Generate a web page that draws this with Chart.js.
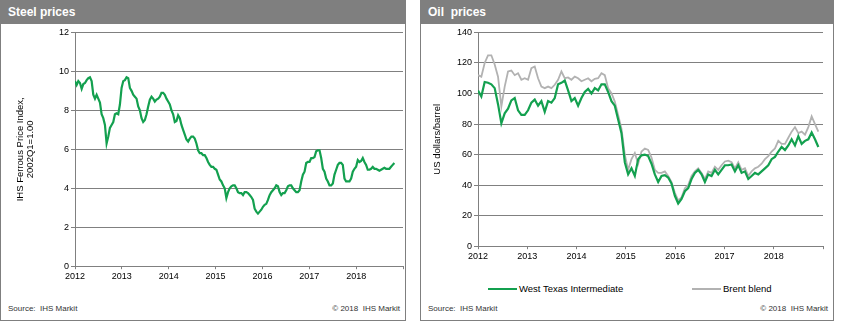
<!DOCTYPE html>
<html>
<head>
<meta charset="utf-8">
<script src="https://cdn.jsdelivr.net/npm/chart.js@4/dist/chart.umd.min.js"></script>
<style>
  body { margin: 0; background: #fff; font-family: "Liberation Sans", Arial, sans-serif; }
  .panel { position: absolute; top: 0; height: 321px; box-sizing: border-box; border: 1px solid #7f7f7f; }
  .head { position: absolute; top: -1px; left: -1px; right: -1px; height: 24px; background: #7f7f7f;
          color: #fff; font-weight: bold; font-size: 12px; line-height: 24px; padding-left: 8px; white-space: pre; }
  .foot { position: absolute; top: 303px; font-size: 8px; color: #333; white-space: pre; }
  canvas { position: absolute; }
  .leg { position: absolute; top: 283px; font-size: 9.5px; color: #000; white-space: nowrap; }
  .leg span.line { display: inline-block; width: 29px; height: 2px; vertical-align: middle; margin-right: 2px; }
</style>
</head>
<body>
<div class="panel" style="left:0;width:406px">
  <div class="head">Steel prices</div>
  <div class="foot" style="left:7px">Source:  IHS Markit</div>
  <div class="foot" style="right:5px">© 2018  IHS Markit</div>
</div>
<div class="panel" style="left:420px;width:414px">
  <div class="head">Oil  prices</div>
  <div class="foot" style="left:7px">Source:  IHS Markit</div>
  <div class="foot" style="right:5px">© 2018  IHS Markit</div>
</div>
<canvas id="steel" width="404" height="275" style="left:1px;top:25px"></canvas>
<canvas id="oil" width="412" height="245" style="left:421px;top:25px"></canvas>
<div class="leg" id="legend1" style="left:488px"></div>
<div class="leg" id="legend2" style="left:692px"></div>
<script>
// steel index, one reading every ~13 days from Jan 2012
const steelStart = 2012;
const steelStep = 0.0355;
const steelValues = [
  9.5, 9.3, 9.5, 9.4, 9.1, 9.35, 9.4, 9.55, 9.65, 9.7, 9.5, 8.8, 8.6, 8.8, 8.6, 8.4,
  7.8, 7.6, 7.25, 6.3, 6.65, 7.1, 7.25, 7.4, 7.8, 7.85, 7.8, 8.3, 9.15, 9.5, 9.55, 9.7,
  9.65, 9.15, 9.0, 8.8, 8.7, 8.6, 8.2, 8.0, 7.6, 7.4, 7.5, 7.8, 8.2, 8.55, 8.7, 8.6,
  8.45, 8.55, 8.6, 8.7, 8.9, 8.9, 8.8, 8.6, 8.45, 8.3, 8.0, 7.8, 7.4, 7.45, 7.75, 7.6,
  7.25, 7.0, 6.75, 6.5, 6.4, 6.55, 6.65, 6.65, 6.55, 6.3, 5.95, 5.8, 5.8, 5.7, 5.7, 5.55,
  5.35, 5.2, 5.1, 5.1, 5.0, 4.95, 4.7, 4.45, 4.35, 4.15, 4.0, 3.5, 3.8, 4.0, 4.1, 4.15,
  4.15, 4.0, 3.8, 3.75, 3.75, 3.65, 3.8, 3.8, 3.75, 3.65, 3.55, 3.4, 2.95, 2.8, 2.7, 2.8,
  2.9, 3.05, 3.15, 3.2, 3.4, 3.65, 3.8, 3.9, 4.0, 4.15, 4.1, 3.8, 3.65, 3.75, 3.75, 3.9,
  4.1, 4.15, 4.15, 4.0, 3.9, 3.8, 3.8, 3.9, 4.35, 4.7, 4.85, 5.3, 5.35, 5.35, 5.55, 5.55,
  5.6, 5.9, 5.95, 5.95, 5.55, 5.0, 4.85, 4.5, 4.35, 4.15, 4.15, 4.25, 4.7, 4.95, 5.2, 5.3,
  5.3, 5.2, 4.5, 4.35, 4.35, 4.35, 4.5, 4.85, 5.0, 5.1, 5.45, 5.35, 5.4, 5.55, 5.35, 5.2,
  4.95, 4.95, 5.0, 5.1, 5.0, 5.0, 4.95, 4.9, 4.95, 5.0, 5.05, 5.0, 5.0, 5.0, 5.1, 5.2, 5.3
];

// oil prices, US$/barrel, one reading every ~25 days from Jan 2012
const oilStart = 2012;
const oilStep = 0.0677;
const wtiValues = [
  102, 98, 107.5, 107, 106, 103.5, 93, 80.5, 87, 90, 95.5, 97, 89, 86, 86, 89,
  94, 96, 92, 95, 88, 95, 94, 97, 106, 107, 108.5, 102, 95, 97, 92, 97,
  101, 103, 100, 103.5, 102, 106, 106, 101, 95, 92, 83, 74, 55, 47, 51, 46,
  57, 59.5, 60, 59, 54, 47, 42, 46, 46.5, 45, 41, 33, 28, 31, 36, 38,
  44, 48, 50, 47, 42, 47, 46, 50, 47, 50, 53, 53, 53.5, 49, 53, 48,
  49, 44, 46, 48, 47, 49, 51, 53, 57, 58.5, 62, 65, 63, 66, 70, 66,
  72, 67, 69, 70, 74.5, 70, 65
];
const brentValues = [
  112, 111, 120, 125, 125, 119, 111, 91.5, 104.5, 114.4, 115, 112, 113.3, 109, 110, 109,
  116.6, 117.7, 110, 104.5, 103.5, 104.5, 103.5, 105.7, 109, 114.4, 110, 110.5, 109, 111, 110, 108,
  109, 110, 108, 109.6, 110, 113.3, 112, 103.5, 100.2, 94.7, 86, 77, 60, 50, 57, 61,
  54, 62, 64, 63, 58, 50, 48, 48, 49, 46, 42, 35, 30, 32, 38, 40,
  46, 49, 51, 48, 44, 49, 48, 52, 50, 53, 55.5, 56, 55, 51, 55, 50,
  51, 46, 49, 51, 52, 54, 57, 59, 62, 64, 69, 67, 67, 71, 75, 78,
  74, 75, 73, 78, 85, 80, 75
];

const seriesNames = ["West Texas Intermediate", "Brent blend"];
const seriesColors = ["#13a04f", "#b2b2b2"];

function toPoints(start, step, values) {
  return values.map((v, i) => ({ x: start + i * step, y: v }));
}

const tickFont = { family: "Liberation Sans", size: 9 };
const gridColor = "#808080";

function yearAxis() {
  return {
    type: "linear",
    min: 2012,
    max: 2019,
    grid: { drawOnChartArea: false, drawTicks: true, tickLength: 3, color: gridColor },
    border: { display: true, color: gridColor },
    ticks: {
      stepSize: 1,
      autoSkip: false,
      maxRotation: 0,
      padding: 2,
      color: "#000",
      font: tickFont,
      callback: (v) => (v === 2019 ? "" : String(v)),
    },
  };
}

function valueAxis(max, step, width, title, titlePad) {
  return {
    min: 0,
    max: max,
    grid: { color: gridColor, tickLength: 4, drawTicks: true },
    border: { display: true, color: gridColor },
    ticks: { stepSize: step, padding: 2, color: "#000", font: tickFont },
    title: {
      display: true,
      text: title,
      color: "#000",
      font: { family: "Liberation Sans", size: 9.5, lineHeight: 1.05 },
      padding: { top: titlePad, bottom: 0 },
    },
    afterFit: (scale) => {
      scale.width = width;
    },
  };
}

new Chart(document.getElementById("steel"), {
  type: "line",
  data: {
    datasets: [
      {
        label: "Steel",
        data: toPoints(steelStart, steelStep, steelValues),
        borderColor: seriesColors[0],
        borderWidth: 2.2,
        pointRadius: 0,
        tension: 0,
      },
    ],
  },
  options: {
    responsive: false,
    animation: false,
    layout: { padding: { left: 0, right: 2, top: 4, bottom: 16 } },
    plugins: { legend: { display: false }, tooltip: { enabled: false } },
    scales: {
      x: yearAxis(),
      y: valueAxis(12, 2, 74, ["IHS Ferrous Price Index,", "2002Q1=1.00"], 14),
    },
  },
});

new Chart(document.getElementById("oil"), {
  type: "line",
  data: {
    datasets: [
      {
        label: seriesNames[0],
        data: toPoints(oilStart, oilStep, wtiValues),
        borderColor: seriesColors[0],
        borderWidth: 2.2,
        pointRadius: 0,
        tension: 0,
      },
      {
        label: seriesNames[1],
        data: toPoints(oilStart, oilStep, brentValues),
        borderColor: seriesColors[1],
        borderWidth: 1.8,
        pointRadius: 0,
        tension: 0,
      },
    ],
  },
  options: {
    responsive: false,
    animation: false,
    layout: { padding: { left: 0, right: 10, top: 4, bottom: 6 } },
    plugins: { legend: { display: false }, tooltip: { enabled: false } },
    scales: {
      x: yearAxis(),
      y: valueAxis(140, 20, 57, "US dollars/barrel", 11),
    },
  },
});

// legend below the oil chart
["legend1", "legend2"].forEach((id, i) => {
  const el = document.getElementById(id);
  el.innerHTML =
    '<span class="line" style="background:' + seriesColors[i] + '"></span>' + seriesNames[i];
});
</script>
</body>
</html>
